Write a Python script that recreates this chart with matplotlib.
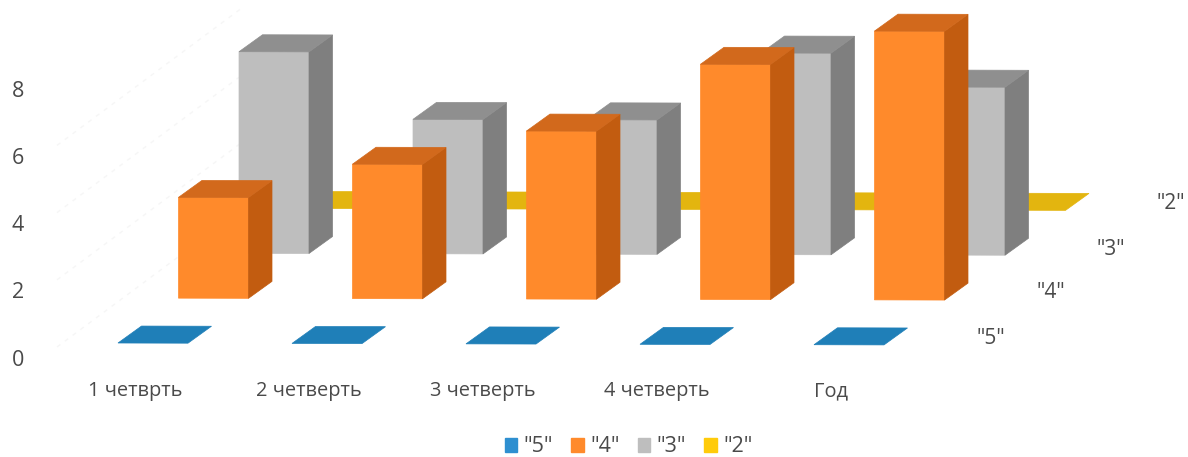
import matplotlib.pyplot as plt
from matplotlib.patches import Patch

plt.rcParams['font.family'] = ['Open Sans', 'DejaVu Sans']

period_labels = ['1 четврть', '2 четверть', '3 четверть', '4 четверть', 'Год']
five = [0, 0, 0, 0, 0]
four = [3, 4, 5, 7, 8]
three = [6, 4, 4, 6, 5]
two = [0, 0, 0, 0, 0]
series_names = ['"5"', '"4"', '"3"', '"2"']
value_ticks = [0, 2, 4, 6, 8]

series = [five, four, three, two]
# front, top, side
colors = [('#1F7FB8', '#1F7FB8', '#1F7FB8'),
          ('#FF8A2B', '#D2691C', '#C25C10'),
          ('#BEBEBE', '#8F8F8F', '#7F7F7F'),
          ('#E3B50F', '#E3B50F', '#E3B50F')]
legend_colors = ['#2E8FD0', '#FF8A2B', '#BEBEBE', '#FFCB0A']

# oblique view: x axis is in pixels, y axis is in value units
px = 33.6
cat_step = 174
row_dx, row_dy = 60.5, 45.0 / px
depth_dx, depth_dy = 23.5, 17.0 / px
bar_w = 70
x0 = 118
y0 = 14 / px
tilt = 0.0025 / px  # the scan is turned a little


def corner(cat, row, val, w=0, d=0):
    x = x0 + cat * cat_step + row * row_dx + w * bar_w + d * depth_dx
    y = y0 + row * row_dy + val + d * depth_dy - (x - x0) * tilt
    return x, y


fig = plt.figure(figsize=(11.88, 4.57), dpi=100)
ax = fig.add_axes([0, 0, 1, 1])
ax.set_xlim(0, 1188)
ax.set_ylim(-100 / px, 357 / px)
ax.axis('off')

# faint wall lines left in the scan
for v in [0, 2, 4, 6]:
    ax.plot([57, 240], [v + 10 / px, v + 146 / px], color='#f6f6f6', lw=1, ls=(0, (3, 4)), zorder=1)

z = 2
for row in [3, 2, 1, 0]:
    for cat in range(len(period_labels)):
        val = series[row][cat]
        front, top, side = colors[row]
        if val > 0:
            pts = [corner(cat, row, 0, 0, 0), corner(cat, row, 0, 1, 0),
                   corner(cat, row, val, 1, 0), corner(cat, row, val, 0, 0)]
            ax.fill(*zip(*pts), color=front, lw=0.5, zorder=z)
            pts = [corner(cat, row, 0, 1, 0), corner(cat, row, 0, 1, 1),
                   corner(cat, row, val, 1, 1), corner(cat, row, val, 1, 0)]
            ax.fill(*zip(*pts), color=side, lw=0.5, zorder=z)
        pts = [corner(cat, row, val, 0, 0), corner(cat, row, val, 1, 0),
               corner(cat, row, val, 1, 1), corner(cat, row, val, 0, 1)]
        ax.fill(*zip(*pts), color=top, lw=0.5, zorder=z)
    z += 1

text_color = '#4a4a4a'
for v in value_ticks:
    ax.text(18, v - 3 / px, str(v), ha='center', va='center', fontsize=15.5, color=text_color)

for i, lab in enumerate(period_labels):
    ax.text(135 + i * cat_step, -34 / px, lab, ha='center', va='center',
            fontsize=14.4, color=text_color)

row_label_x = [991, 1051, 1111, 1171]
row_label_y = [19, 65, 108, 154]
for name, x, y in zip(series_names, row_label_x, row_label_y):
    ax.text(x, y / px, name, ha='center', va='center', fontsize=15, color=text_color)

handles = [Patch(color=c) for c in legend_colors]
ax.legend(handles, series_names, ncol=4, loc='center', bbox_to_anchor=(0.529, 0.022),
          frameon=False, fontsize=15.5, labelcolor=text_color, handlelength=0.6, handleheight=0.6,
          handletextpad=0.28, columnspacing=0.84, borderpad=0)

fig.savefig('out.png', dpi=100)
